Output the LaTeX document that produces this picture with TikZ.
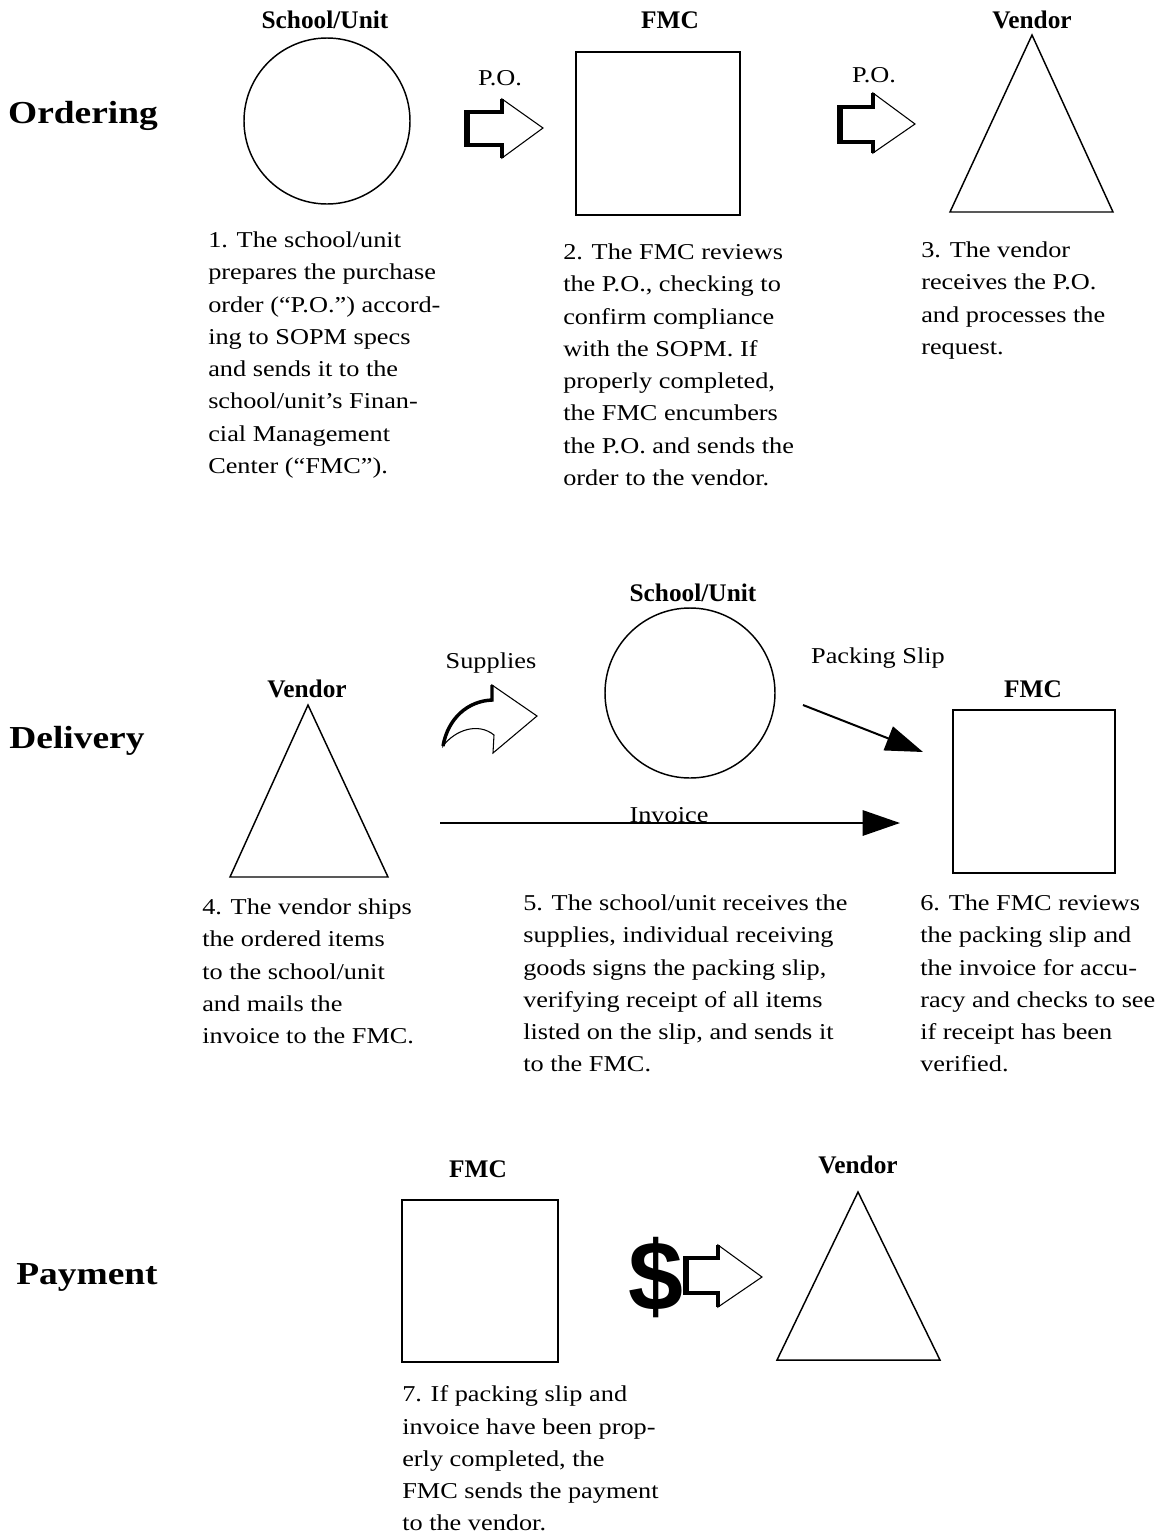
\documentclass[tikz,border=0pt]{standalone}
\usepackage{fontspec}
\setmainfont{Liberation Serif}
\newfontfamily\bodyfont{Liberation Serif}[FakeStretch=1.16]
\newfontfamily\titlefont{Liberation Serif}[FakeStretch=1.17]
\newfontfamily\dollarfont{Liberation Sans}
\usetikzlibrary{arrows.meta}

\tikzset{
  unitshape/.style={draw, line width=1.1pt, inner sep=0},
  header/.style={font=\bfseries\fontsize{19}{21}\selectfont, anchor=base},
  phase/.style={font=\titlefont\bfseries\fontsize{24}{28}\selectfont, anchor=base},
  flowlabel/.style={font=\bodyfont\fontsize{17}{20}\selectfont, anchor=base},
  stepnote/.style={font=\bodyfont\fontsize{17}{24.2}\selectfont, align=left, anchor=north west, inner sep=0},
  blockline/.style={line width=0.8pt, line join=miter, fill=white},
  blockshade/.style={line width=2.6pt, line join=miter},
  bigarrow/.style={-{Triangle[length=28pt,width=19pt]}, line width=1.5pt},
}

\begin{document}
\begin{tikzpicture}[x=0.75pt,y=-0.75pt]
  \useasboundingbox (0,0) rectangle (1164,1539);

  \node[phase] (ordering) at (83,123) {Ordering};
  \node[phase] (delivery) at (77,748) {Delivery};
  \node[phase] (payment) at (87,1284) {Payment};

  \node[unitshape, circle, minimum size=124.5pt] (unit1) at (327,121) {};
  \node[header] (unit1h) at (325,28) {School/Unit};
  \node[unitshape, minimum width=123pt, minimum height=122.25pt] (fmc1) at (658,133.5) {};
  \node[header] (fmc1h) at (670,28) {FMC};
  \coordinate (vendor1) at (1032,35);
  \draw[line width=1.1pt] (vendor1) -- ++(81,177) -- ++(-163,0) -- cycle;
  \node[header] (vendor1h) at (1032,28) {Vendor};

  \draw[blockline] (466,112) -- (502,112) -- (502,99) -- (543,128) -- (502,158) -- (502,145) -- (466,145) -- cycle;
  \draw[blockshade] (502,99) -- (502,112) -- (466,112) -- (466,145) -- (502,145) -- (502,158);
  \draw[line width=4pt] (467,111) -- (467,146);
  \node[flowlabel] (po1) at (500,85) {P.O.};
  \draw[blockline] (839,107) -- (873,107) -- (873,93) -- (915,124) -- (873,153) -- (873,142) -- (839,142) -- cycle;
  \draw[blockshade] (873,93) -- (873,107) -- (839,107) -- (839,142) -- (873,142) -- (873,153);
  \draw[line width=4pt] (840,106) -- (840,143);
  \node[flowlabel] (po2) at (874,82) {P.O.};

  \node[stepnote] (note1) at (208,231.5) {1. The school/unit\\prepares the purchase\\order (“P.O.”) accord-\\ing to SOPM specs\\and sends it to the\\school/unit’s Finan-\\cial Management\\Center (“FMC”).};
  \node[stepnote] (note2) at (563,243.5) {2. The FMC reviews\\the P.O., checking to\\confirm compliance\\with the SOPM. If\\properly completed,\\the FMC encumbers\\the P.O. and sends the\\order to the vendor.};
  \node[stepnote] (note3) at (921,241.5) {3. The vendor\\receives the P.O.\\and processes the\\request.};

  \coordinate (vendor2) at (308,705);
  \draw[line width=1.1pt] (vendor2) -- ++(80,172) -- ++(-158,0) -- cycle;
  \node[header] (vendor2h) at (307,697) {Vendor};
  \node[unitshape, circle, minimum size=127.5pt] (unit2) at (690,693) {};
  \node[header] (unit2h) at (693,601) {School/Unit};
  \node[unitshape, minimum width=121.5pt, minimum height=122.25pt] (fmc2) at (1034,791.5) {};
  \node[header] (fmc2h) at (1033,697) {FMC};

  \draw[blockline] (492,700) .. controls (468,701) and (448,718) .. (443,746) .. controls (455,730) and (478,722) .. (494,735) -- (493,753) -- (537,716) -- (492,685) -- cycle;
  \draw[blockshade] (492,685) -- (492,700) .. controls (468,701) and (448,718) .. (443,746);
  \node[flowlabel] (supplies) at (491,668) {Supplies};

  \coordinate (slip0) at (803,705);
  \coordinate (slip1) at (923,752);
  \draw[bigarrow] (slip0) -- (slip1);
  \node[flowlabel] (slip) at (878,663) {Packing Slip};

  \coordinate (invoice0) at (440,823);
  \coordinate (invoice1) at (900,823);
  \draw[bigarrow] (invoice0) -- (invoice1);
  \node[flowlabel] (invoice) at (669,822) {Invoice};

  \node[stepnote] (note4) at (202,898.5) {4. The vendor ships\\the ordered items\\to the school/unit\\and mails the\\invoice to the FMC.};
  \node[stepnote] (note5) at (523,894.5) {5. The school/unit receives the\\supplies, individual receiving\\goods signs the packing slip,\\verifying receipt of all items\\listed on the slip, and sends it\\to the FMC.};
  \node[stepnote] (note6) at (920,894.5) {6. The FMC reviews\\the packing slip and\\the invoice for accu-\\racy and checks to see\\if receipt has been\\verified.};

  \node[unitshape, minimum width=117pt, minimum height=121.5pt] (fmc3) at (480,1281) {};
  \node[header] (fmc3h) at (478,1177) {FMC};
  \coordinate (vendor3) at (858,1192);
  \draw[line width=1.1pt] (vendor3) -- ++(82,168) -- ++(-163,0) -- cycle;
  \node[header] (vendor3h) at (858,1173) {Vendor};

  \node[font=\dollarfont\bfseries\fontsize{74}{76}\selectfont, inner sep=0] (dollar) at (656,1278) {\$};
  \draw[blockline] (685,1258) -- (718,1258) -- (718,1245) -- (762,1277) -- (718,1307) -- (718,1293) -- (685,1293) -- cycle;
  \draw[blockshade] (718,1245) -- (718,1258) -- (685,1258) -- (685,1293) -- (718,1293) -- (718,1307);
  \draw[line width=4pt] (686,1257) -- (686,1294);

  \node[stepnote] (note7) at (402,1385.5) {7. If packing slip and\\invoice have been prop-\\erly completed, the\\FMC sends the payment\\to the vendor.};
\end{tikzpicture}
\end{document}
